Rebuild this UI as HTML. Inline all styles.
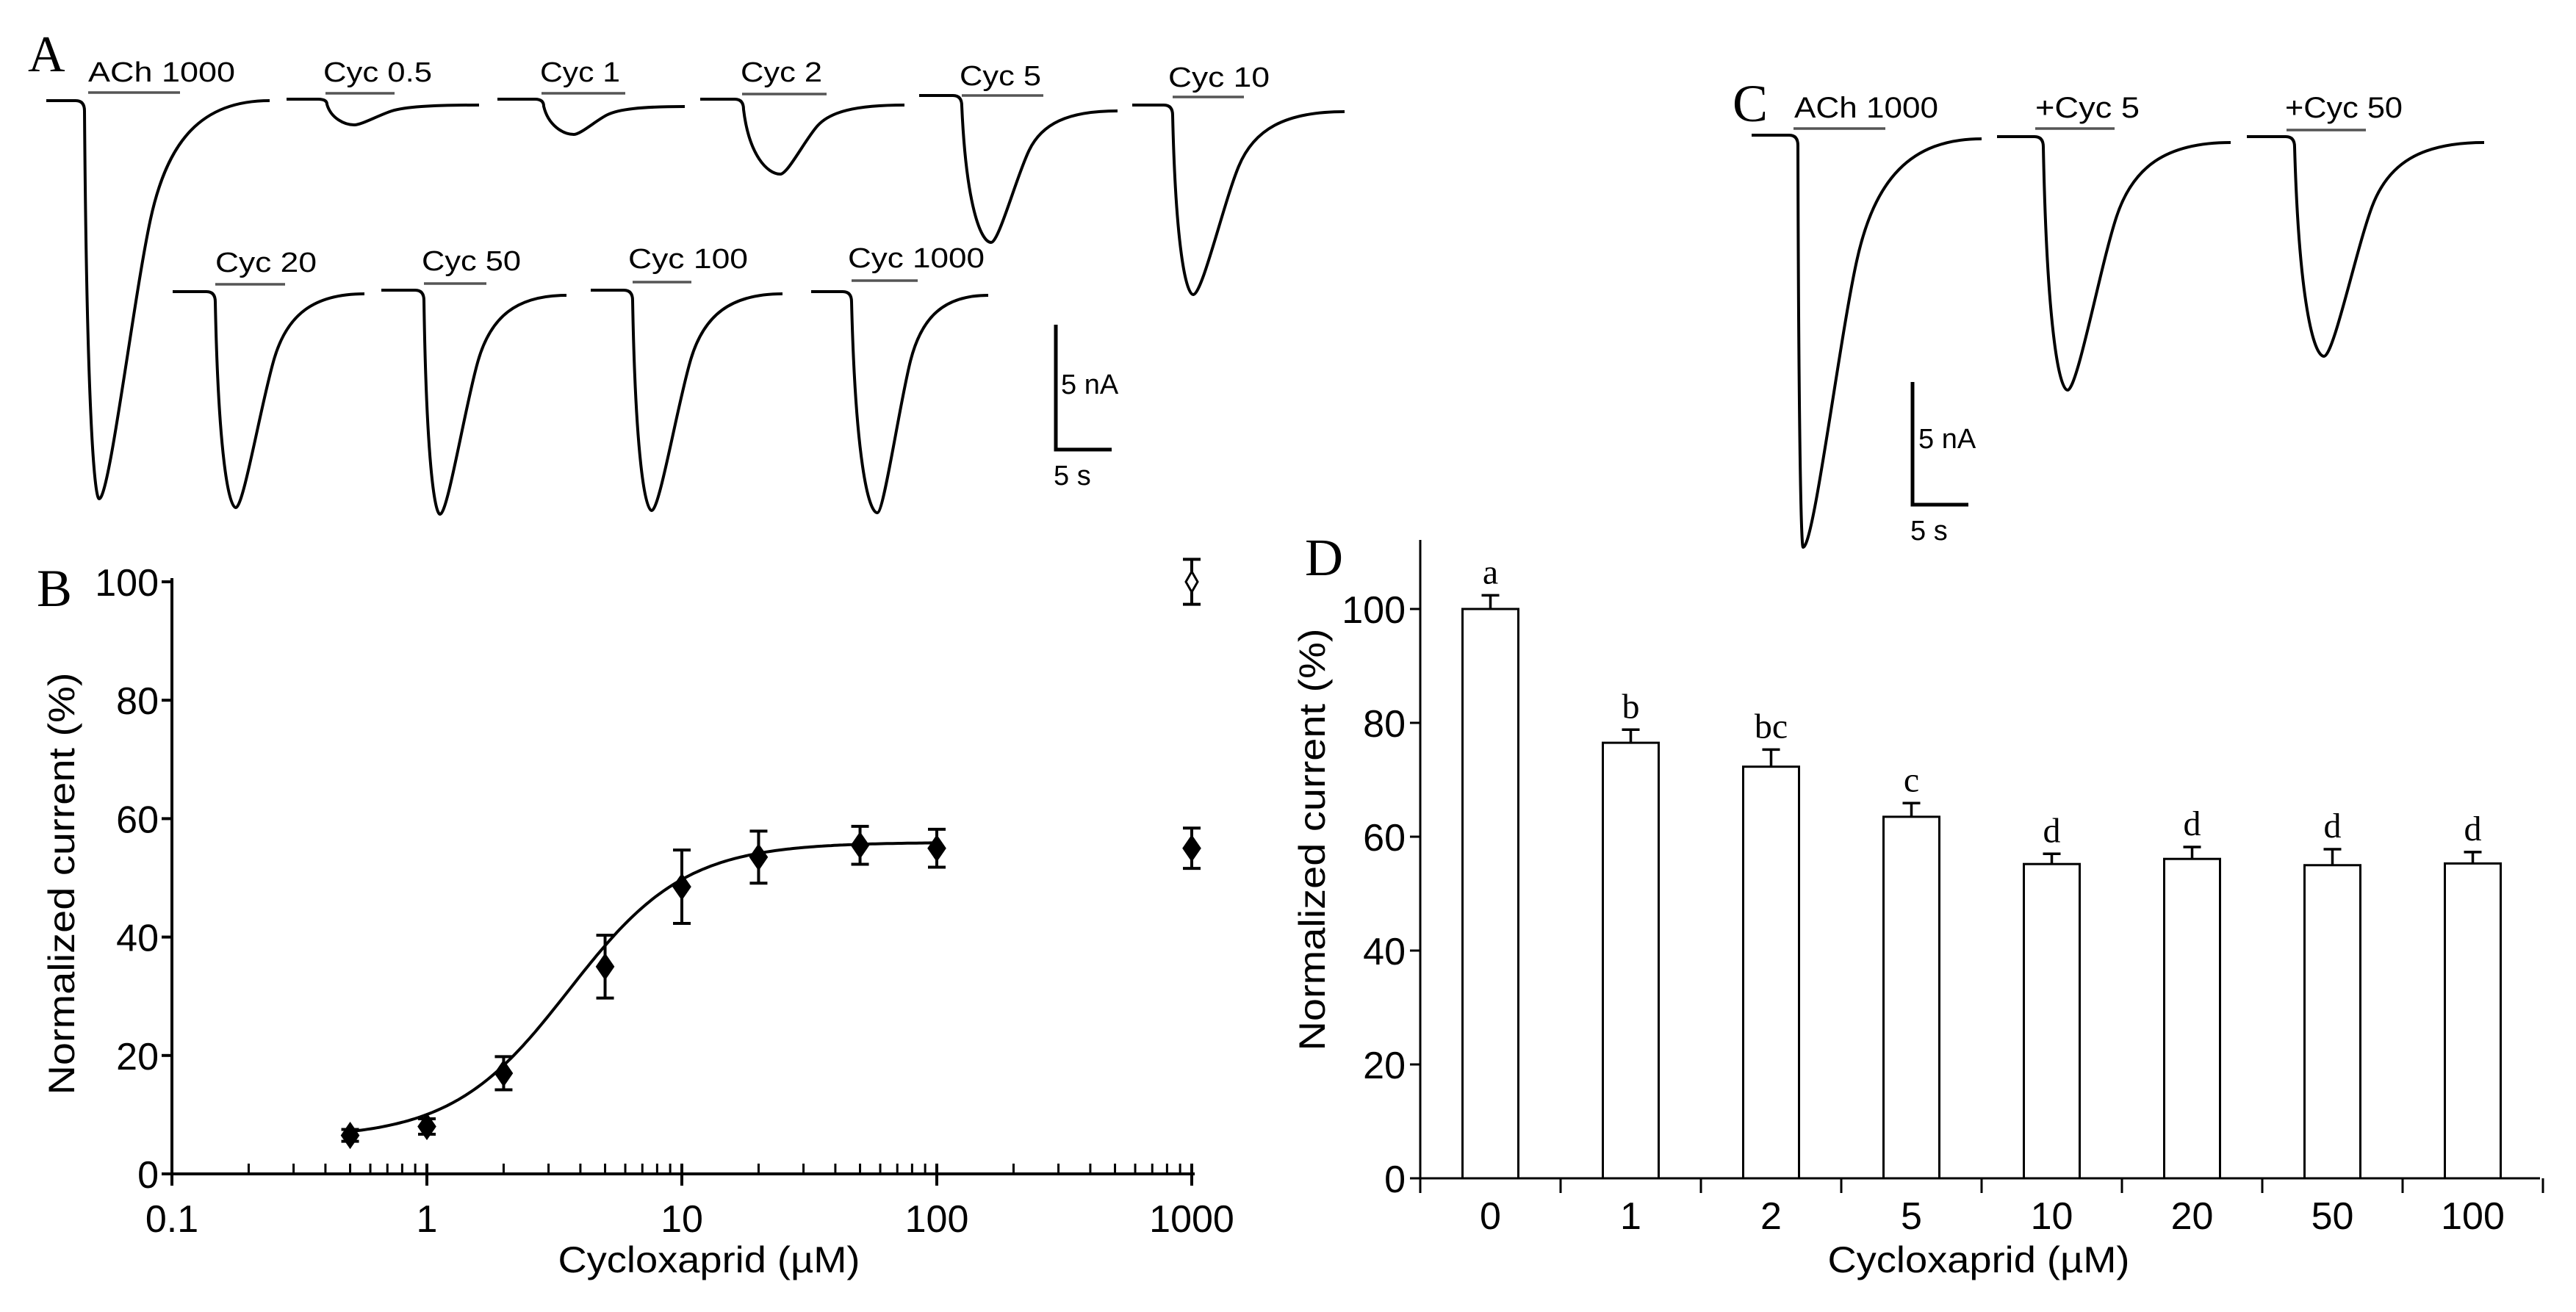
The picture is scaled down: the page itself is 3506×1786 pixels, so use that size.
<!DOCTYPE html>
<html><head><meta charset="utf-8">
<style>
html,body{margin:0;padding:0;background:#fff;}
svg{display:block;}
text{font-family:"Liberation Sans",Arial,sans-serif;fill:#000;}
.serif{font-family:"Liberation Serif","Times New Roman",serif;}
</style></head>
<body>
<svg id="fig" width="3506" height="1786" viewBox="0 0 3506 1786" xmlns="http://www.w3.org/2000/svg">
<rect width="3506" height="1786" fill="#fff"/>
<g id="panelA"></g>
<g id="panelB"></g>
<g id="panelC"></g>
<g id="panelD"></g>
</svg>
<script>
// ---------- Panel B data ----------
const bConc = [0.5, 1, 2, 5, 10, 20, 50, 100, 1000];
const bMean = [6.5, 8, 17, 35, 48.5, 53.5, 55.5, 55, 55];
const bErr = [1, 1.3, 2.8, 5.3, 6.2, 4.4, 3.2, 3.2, 3.4];
const bAChConc = [1000];
const bAChMean = [100];
const bAChErr = [3.8];
const bXTicks = [0.1, 1, 10, 100, 1000];
const bXTickLabels = ["0.1", "1", "10", "100", "1000"];
const bYTicks = [0, 20, 40, 60, 80, 100];
const bFit = [6, 56, 3.6, 1.9]; // bottom, top, EC50, hill

// ---------- Panel D data ----------
const dCats = ["0", "1", "2", "5", "10", "20", "50", "100"];
const dMean = [100, 76.5, 72.3, 63.5, 55.2, 56.1, 55, 55.3];
const dErr = [2.4, 2.3, 3, 2.4, 1.8, 2.1, 2.8, 2];
const dLetters = ["a", "b", "bc", "c", "d", "d", "d", "d"];
const dYTicks = [0, 20, 40, 60, 80, 100];

// ---------- Trace data (panels A and C) ----------
const aLabels = ["ACh 1000","Cyc 0.5","Cyc 1","Cyc 2","Cyc 5","Cyc 10","Cyc 20","Cyc 50","Cyc 100","Cyc 1000"];
const aPeakDepth = [542, 35, 48, 102, 200, 258, 294, 305, 300, 301];
const cLabels = ["ACh 1000","+Cyc 5","+Cyc 50"];
const cPeakDepth = [561, 345, 299];

const NS = "http://www.w3.org/2000/svg";
function mk(parent, tag, attrs, txt){
  const e = document.createElementNS(NS, tag);
  for (const k in attrs) e.setAttribute(k, attrs[k]);
  if (txt !== undefined) e.textContent = txt;
  parent.appendChild(e);
  return e;
}

// ---------- traces ----------
function tracePath(x0, xo, xp, yb, depth, xe, ye){
  const yp = yb + depth;
  const d = xp - xo, r = xe - xp;
  const dep = yp - ye;
  const X = f => xp + r*f, Y = f => ye + dep*f;
  return `M${x0},${yb} L${xo-12},${yb} Q${xo},${yb} ${xo},${yb+Math.min(14,depth*0.2)} ` +
    `C${xo+d*0.15},${yb+depth*0.75} ${xp-d*0.35},${yp} ${xp},${yp} ` +
    `C${X(0.06)},${yp} ${X(0.2)},${Y(0.5)} ${X(0.3)},${Y(0.3)} ` +
    `C${X(0.4)},${Y(0.1)} ${X(0.6)},${ye} ${xe},${ye}`;
}
const aGeo = [
 {x0:63,xo:115,xp:135,yb:137,xe:367,ye:137,lx:120,ly:111,bx1:120,bx2:245,by:126,tl:200},
 {x0:390,xo:445,xp:482,yb:135,xe:652,ye:143,lx:440,ly:111,bx1:443,bx2:537,by:127,tl:148},
 {x0:677,xo:740,xp:781,yb:135,xe:932,ye:145,lx:735,ly:111,bx1:737,bx2:851,by:127,tl:109},
 {x0:953,xo:1012,xp:1062,yb:135,xe:1231,ye:143,lx:1008,ly:111,bx1:1010,bx2:1125,by:128,tl:111},
 {x0:1251,xo:1309,xp:1349,yb:130,xe:1521,ye:151,lx:1306,ly:116,bx1:1309,bx2:1420,by:130,tl:111},
 {x0:1541,xo:1596,xp:1624,yb:143,xe:1830,ye:152,lx:1590,ly:118,bx1:1596,bx2:1693,by:132,tl:138},
 {x0:235,xo:293,xp:321,yb:397,xe:496,ye:400,lx:293,ly:370,bx1:293,bx2:388,by:387,tl:138},
 {x0:519,xo:577,xp:599,yb:395,xe:771,ye:402,lx:574,ly:368,bx1:577,bx2:662,by:386,tl:135},
 {x0:804,xo:861,xp:887,yb:395,xe:1065,ye:400,lx:855,ly:365,bx1:861,bx2:941,by:384,tl:163},
 {x0:1104,xo:1159,xp:1194,yb:397,xe:1345,ye:402,lx:1154,ly:364,bx1:1159,bx2:1249,by:382,tl:186}
];
const cGeo = [
 {x0:2384,xo:2447,xp:2454,yb:184,xe:2697,ye:189,lx:2442,ly:160,bx1:2441,bx2:2566,by:175,tl:196},
 {x0:2718,xo:2781,xp:2814,yb:186,xe:3036,ye:194,lx:2770,ly:160,bx1:2770,bx2:2878,by:175,tl:142},
 {x0:3058,xo:3123,xp:3163,yb:186,xe:3381,ye:194,lx:3110,ly:160,bx1:3112,bx2:3220,by:177,tl:160}
];
function drawTraces(g, labels, depths, geo, fs){
  labels.forEach((lab,i)=>{
    const G = geo[i];
    const p = mk(g,"path",{d:tracePath(G.x0,G.xo,G.xp,G.yb,depths[i],G.xe,G.ye),fill:"none",stroke:"#000","stroke-width":4});
    
    
    const t = mk(g,"text",{x:G.lx,y:G.ly,"font-size":fs,textLength:G.tl,lengthAdjust:"spacingAndGlyphs"},lab);
    
    
    const b = mk(g,"line",{x1:G.bx1,x2:G.bx2,y1:G.by,y2:G.by,stroke:"#555","stroke-width":3.5});
    
    
  });
}
const gA = document.getElementById("panelA");
drawTraces(gA, aLabels, aPeakDepth, aGeo, 38);
mk(gA,"text",{x:38,y:97,"font-size":70,class:"serif"},"A");
mk(gA,"path",{d:"M1437,442 L1437,612 L1513,612",fill:"none",stroke:"#000","stroke-width":5});
mk(gA,"text",{x:1444,y:536,"font-size":38},"5 nA");
mk(gA,"text",{x:1434,y:660,"font-size":38},"5 s");

const gC = document.getElementById("panelC");
drawTraces(gC, cLabels, cPeakDepth, cGeo, 40);
mk(gC,"text",{x:2358,y:165,"font-size":72,class:"serif"},"C");
mk(gC,"path",{d:"M2603,520 L2603,687 L2679,687",fill:"none",stroke:"#000","stroke-width":5});
mk(gC,"text",{x:2611,y:610,"font-size":38},"5 nA");
mk(gC,"text",{x:2600,y:735,"font-size":38},"5 s");

// ---------- Panel B ----------
(function(){
  const g = document.getElementById("panelB");
  const X0 = 234, DEC = 347, Y0 = 1598, Y100 = 792;
  const sx = v => X0 + (Math.log10(v) - Math.log10(0.1)) * DEC;
  const sy = v => Y0 + (Y100 - Y0) * v / 100;
  mk(g,"line",{x1:X0,x2:X0,y1:sy(100)-5,y2:Y0,stroke:"#000","stroke-width":4});
  mk(g,"line",{x1:X0,x2:sx(1000)+4,y1:Y0,y2:Y0,stroke:"#000","stroke-width":4});
  bYTicks.forEach(v=>{
    mk(g,"line",{x1:X0-14,x2:X0,y1:sy(v),y2:sy(v),stroke:"#000","stroke-width":4});
    const t = mk(g,"text",{x:X0-18,y:sy(v)+19,"font-size":52,"text-anchor":"end"},String(v));
    
    
  });
  for (let d=0; d<4; d++){
    for (let m=2;m<=9;m++){
      const v = Math.pow(10,d-1)*m;
      mk(g,"line",{x1:sx(v),x2:sx(v),y1:Y0-14,y2:Y0,stroke:"#000","stroke-width":3});
    }
  }
  bXTicks.forEach((v,i)=>{
    mk(g,"line",{x1:sx(v),x2:sx(v),y1:Y0-14,y2:Y0+16,stroke:"#000","stroke-width":4});
    const t = mk(g,"text",{x:sx(v),y:1677,"font-size":52,"text-anchor":"middle"},bXTickLabels[i]);
    
    
  });
  let d = "";
  for (let i=0;i<=200;i++){
    const lx = Math.log10(0.5) + (Math.log10(100)-Math.log10(0.5))*i/200;
    const x = Math.pow(10,lx);
    const y = bFit[0] + (bFit[1]-bFit[0])/(1+Math.pow(bFit[2]/x,bFit[3]));
    d += (i?"L":"M") + sx(x).toFixed(1) + "," + sy(y).toFixed(1);
  }
  mk(g,"path",{d:d,fill:"none",stroke:"#000","stroke-width":4});
  function pt(x,m,e,open){
    const cx = sx(x), cy = sy(m);
    const eb = mk(g,"path",{d:`M${cx},${sy(m+e)} L${cx},${sy(m-e)} M${cx-12},${sy(m+e)} L${cx+12},${sy(m+e)} M${cx-12},${sy(m-e)} L${cx+12},${sy(m-e)}`,stroke:"#000","stroke-width":4,fill:"none"});
    
    
    const s = open?8:11, h = open?14:16;
    const p = mk(g,"path",{d:`M${cx},${cy-h} L${cx+s},${cy} L${cx},${cy+h} L${cx-s},${cy} Z`,fill:open?"#fff":"#000",stroke:"#000","stroke-width":3});
    
    
  }
  bConc.forEach((x,i)=>pt(x,bMean[i],bErr[i],false));
  bAChConc.forEach((x,i)=>pt(x,bAChMean[i],bAChErr[i],true));
  mk(g,"text",{x:50,y:825,"font-size":72,class:"serif"},"B");
  mk(g,"text",{x:0,y:0,"font-size":50,"text-anchor":"middle",textLength:575,lengthAdjust:"spacingAndGlyphs",transform:"translate(101,1203) rotate(-90)"},"Normalized current (%)");
  mk(g,"text",{x:965,y:1732,"font-size":50,"text-anchor":"middle",textLength:411,lengthAdjust:"spacingAndGlyphs"},"Cycloxaprid (µM)");
})();

// ---------- Panel D ----------
(function(){
  const g = document.getElementById("panelD");
  const X0 = 1933, BAND = 191, Y0 = 1604, Y100 = 829, BW = 76;
  const sy = v => Y0 + (Y100 - Y0) * v / 100;
  const cx = i => X0 + BAND*(i+0.5);
  mk(g,"line",{x1:X0,x2:X0,y1:735,y2:Y0,stroke:"#000","stroke-width":3});
  mk(g,"line",{x1:X0,x2:X0+BAND*8-4,y1:Y0,y2:Y0,stroke:"#000","stroke-width":3});
  dYTicks.forEach(v=>{
    mk(g,"line",{x1:X0-14,x2:X0,y1:sy(v),y2:sy(v),stroke:"#000","stroke-width":3});
    const t = mk(g,"text",{x:X0-20,y:sy(v)+19,"font-size":52,"text-anchor":"end"},String(v));
    
    
  });
  for (let i=0;i<=8;i++){
    mk(g,"line",{x1:X0+BAND*i,x2:X0+BAND*i,y1:Y0,y2:Y0+20,stroke:"#000","stroke-width":3});
  }
  dCats.forEach((c,i)=>{
    const x = cx(i);
    const top = sy(dMean[i]), et = sy(dMean[i]+dErr[i]);
    const eb = mk(g,"path",{d:`M${x},${top} L${x},${et} M${x-12},${et} L${x+12},${et}`,stroke:"#000","stroke-width":3.5,fill:"none"});
    
    
    const r = mk(g,"rect",{x:x-BW/2,y:top,width:BW,height:Y0-top,fill:"#fff",stroke:"#000","stroke-width":3});
    
    
    const l = mk(g,"text",{x:x,y:et-16,"font-size":48,"text-anchor":"middle",class:"serif"},dLetters[i]);
    
    
    const t = mk(g,"text",{x:x,y:1673,"font-size":52,"text-anchor":"middle"},c);
    
    
  });
  mk(g,"text",{x:1776,y:783,"font-size":72,class:"serif"},"D");
  mk(g,"text",{x:0,y:0,"font-size":50,"text-anchor":"middle",textLength:575,lengthAdjust:"spacingAndGlyphs",transform:"translate(1803,1143) rotate(-90)"},"Normalized current (%)");
  mk(g,"text",{x:2693,y:1732,"font-size":50,"text-anchor":"middle",textLength:411,lengthAdjust:"spacingAndGlyphs"},"Cycloxaprid (µM)");
})();
</script>
</body></html>
